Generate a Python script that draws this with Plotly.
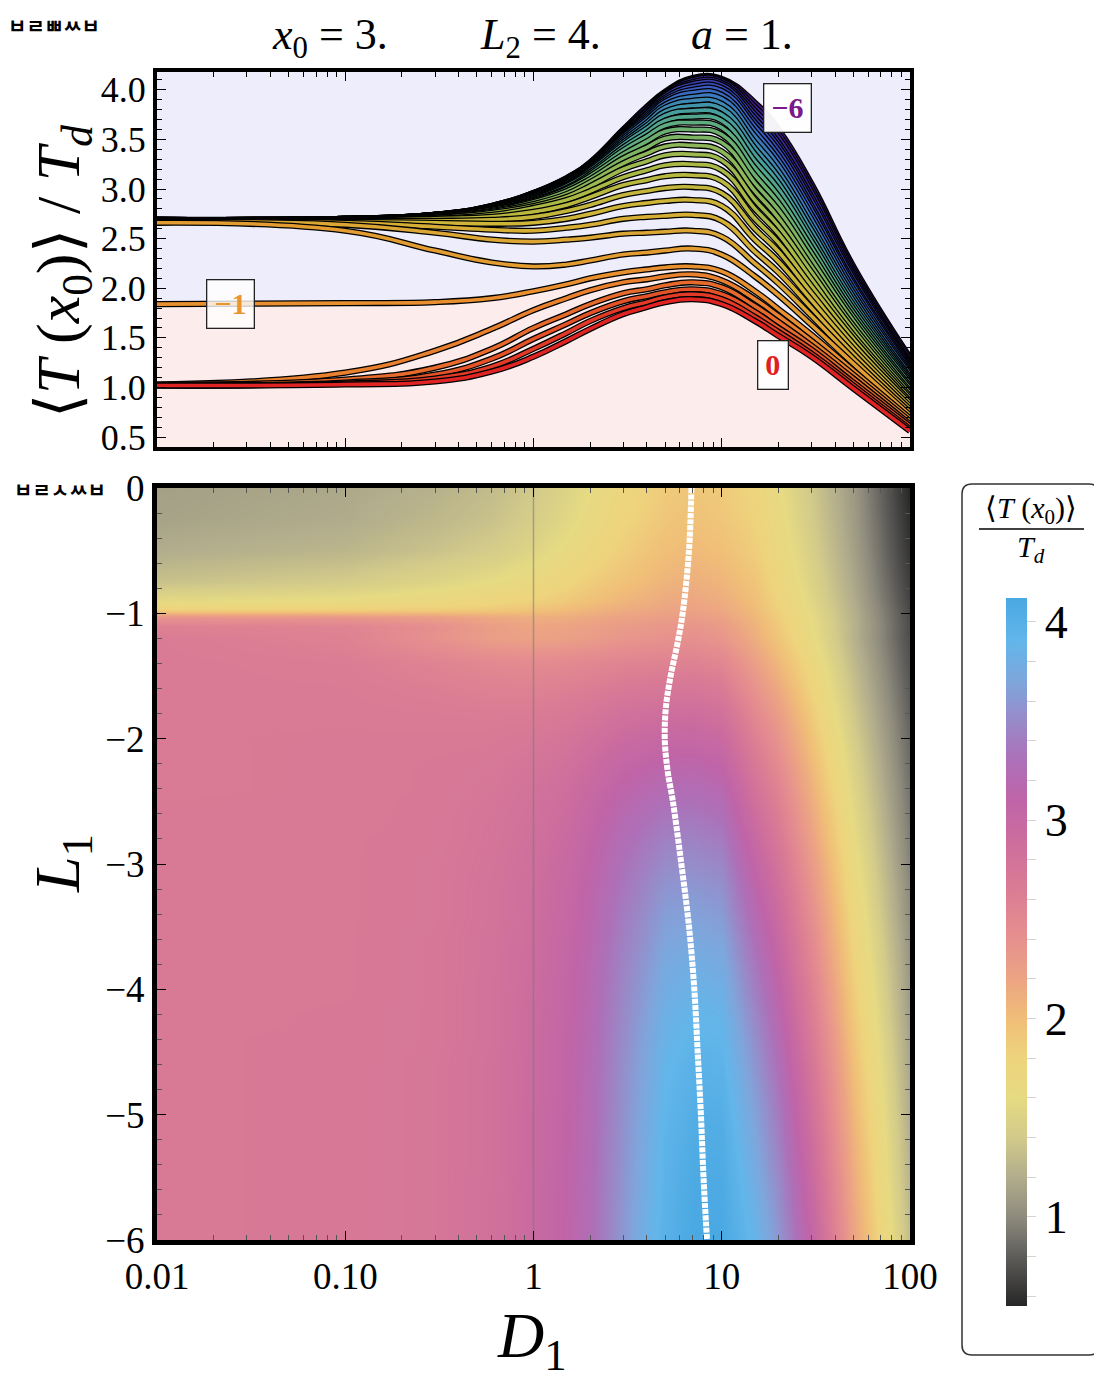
import numpy as np
import plotly.graph_objects as go

# the page puts the figure 8px in from the top-left corner of the window
OFF = 8
W, H = 1102 - OFF, 1381 - OFF
SERIF = "Liberation Serif"

# ---------------- data ----------------
D1 = [0.01, 0.1, 0.3, 0.6, 1, 1.5, 2, 3, 4, 5, 7, 10, 15, 20, 30, 50, 100]

CURVE_L1 = [0, -0.2, -0.4, -0.6, -0.8, -1.0, -1.2, -1.4, -1.6, -1.8, -2.0,
            -2.2, -2.4, -2.6, -2.8, -3.0, -3.2, -3.4, -3.6, -3.8, -4.0,
            -4.2, -4.4, -4.6, -4.8, -5.0, -5.2, -5.4, -5.6, -5.8, -6.0]

# <T(x0)>/Td, one row per L1, one column per D1
CURVES = [
    [1.02, 1.03, 1.06, 1.16, 1.31, 1.47, 1.59, 1.74, 1.81, 1.86, 1.89, 1.84, 1.67, 1.52, 1.31, 0.99, 0.56],
    [1.02, 1.04, 1.09, 1.21, 1.39, 1.55, 1.67, 1.80, 1.86, 1.91, 1.94, 1.89, 1.71, 1.56, 1.34, 1.02, 0.58],
    [1.02, 1.05, 1.13, 1.29, 1.49, 1.64, 1.75, 1.87, 1.92, 1.96, 1.99, 1.94, 1.76, 1.60, 1.38, 1.05, 0.61],
    [1.03, 1.08, 1.20, 1.39, 1.60, 1.74, 1.84, 1.95, 1.99, 2.03, 2.06, 2.01, 1.82, 1.66, 1.42, 1.09, 0.63],
    [1.03, 1.15, 1.37, 1.59, 1.78, 1.90, 1.98, 2.06, 2.09, 2.12, 2.14, 2.08, 1.89, 1.72, 1.47, 1.13, 0.66],
    [1.84, 1.85, 1.86, 1.90, 1.97, 2.04, 2.10, 2.16, 2.19, 2.21, 2.22, 2.17, 1.97, 1.79, 1.53, 1.17, 0.69],
    [2.66, 2.58, 2.38, 2.26, 2.22, 2.24, 2.28, 2.34, 2.36, 2.38, 2.40, 2.34, 2.12, 1.93, 1.63, 1.24, 0.72],
    [2.67, 2.64, 2.56, 2.49, 2.47, 2.49, 2.51, 2.55, 2.56, 2.57, 2.58, 2.52, 2.25, 2.05, 1.72, 1.29, 0.75],
    [2.67, 2.66, 2.62, 2.59, 2.58, 2.61, 2.64, 2.70, 2.72, 2.73, 2.74, 2.68, 2.37, 2.16, 1.80, 1.34, 0.78],
    [2.67, 2.67, 2.66, 2.65, 2.66, 2.70, 2.75, 2.83, 2.86, 2.88, 2.89, 2.83, 2.49, 2.27, 1.88, 1.39, 0.81],
    [2.67, 2.68, 2.68, 2.69, 2.72, 2.78, 2.84, 2.94, 2.98, 3.01, 3.02, 2.96, 2.60, 2.37, 1.95, 1.44, 0.84],
    [2.67, 2.68, 2.70, 2.72, 2.77, 2.84, 2.92, 3.04, 3.09, 3.13, 3.14, 3.08, 2.70, 2.46, 2.02, 1.49, 0.86],
    [2.67, 2.68, 2.70, 2.74, 2.81, 2.89, 2.98, 3.12, 3.19, 3.24, 3.25, 3.19, 2.80, 2.55, 2.09, 1.53, 0.89],
    [2.68, 2.68, 2.71, 2.76, 2.83, 2.92, 3.03, 3.20, 3.28, 3.34, 3.35, 3.29, 2.89, 2.63, 2.16, 1.58, 0.91],
    [2.68, 2.69, 2.71, 2.77, 2.85, 2.95, 3.07, 3.26, 3.36, 3.43, 3.44, 3.38, 2.98, 2.71, 2.22, 1.62, 0.94],
    [2.68, 2.69, 2.72, 2.78, 2.87, 2.98, 3.10, 3.31, 3.42, 3.51, 3.52, 3.47, 3.06, 2.79, 2.29, 1.67, 0.96],
    [2.68, 2.69, 2.72, 2.79, 2.88, 3.00, 3.13, 3.35, 3.48, 3.58, 3.60, 3.55, 3.14, 2.86, 2.35, 1.71, 0.99],
    [2.68, 2.69, 2.72, 2.79, 2.89, 3.01, 3.15, 3.39, 3.53, 3.64, 3.67, 3.62, 3.21, 2.93, 2.41, 1.75, 1.01],
    [2.68, 2.69, 2.73, 2.80, 2.90, 3.03, 3.17, 3.42, 3.57, 3.69, 3.73, 3.69, 3.28, 3.00, 2.47, 1.79, 1.04],
    [2.68, 2.69, 2.73, 2.80, 2.91, 3.04, 3.19, 3.45, 3.61, 3.74, 3.79, 3.75, 3.35, 3.06, 2.52, 1.83, 1.06],
    [2.68, 2.69, 2.73, 2.81, 2.92, 3.05, 3.20, 3.47, 3.64, 3.78, 3.84, 3.81, 3.41, 3.12, 2.58, 1.87, 1.08],
    [2.68, 2.70, 2.73, 2.81, 2.93, 3.06, 3.21, 3.49, 3.67, 3.82, 3.89, 3.86, 3.47, 3.18, 2.63, 1.91, 1.10],
    [2.69, 2.70, 2.73, 2.81, 2.93, 3.07, 3.22, 3.51, 3.70, 3.85, 3.93, 3.91, 3.53, 3.24, 2.69, 1.95, 1.13],
    [2.69, 2.70, 2.74, 2.82, 2.94, 3.08, 3.23, 3.53, 3.72, 3.88, 3.97, 3.95, 3.58, 3.29, 2.74, 1.99, 1.15],
    [2.69, 2.70, 2.74, 2.82, 2.94, 3.08, 3.24, 3.54, 3.74, 3.90, 4.00, 3.99, 3.63, 3.34, 2.79, 2.03, 1.17],
    [2.69, 2.70, 2.74, 2.82, 2.95, 3.09, 3.24, 3.55, 3.76, 3.92, 4.03, 4.02, 3.67, 3.39, 2.83, 2.06, 1.19],
    [2.69, 2.70, 2.74, 2.82, 2.95, 3.09, 3.25, 3.56, 3.77, 3.94, 4.06, 4.05, 3.71, 3.43, 2.88, 2.10, 1.21],
    [2.69, 2.70, 2.74, 2.82, 2.95, 3.10, 3.25, 3.57, 3.79, 3.95, 4.08, 4.07, 3.75, 3.47, 2.92, 2.13, 1.23],
    [2.69, 2.70, 2.74, 2.83, 2.96, 3.10, 3.26, 3.58, 3.80, 3.96, 4.10, 4.09, 3.79, 3.52, 2.97, 2.16, 1.25],
    [2.69, 2.70, 2.74, 2.83, 2.96, 3.11, 3.26, 3.59, 3.82, 3.97, 4.11, 4.10, 3.83, 3.56, 3.01, 2.19, 1.28],
    [2.69, 2.70, 2.74, 2.83, 2.96, 3.11, 3.27, 3.60, 3.83, 3.98, 4.12, 4.11, 3.87, 3.60, 3.05, 2.22, 1.30],
]

# density map rows above L1 = -1.2
HEAT_TOP_L1 = [0, -0.25, -0.5, -0.75, -0.9, -0.97, -1.03, -1.1]
HEAT_TOP = [
    [1.12, 1.17, 1.23, 1.30, 1.40, 1.51, 1.60, 1.75, 1.82, 1.88, 1.93, 1.88, 1.78, 1.62, 1.38, 1.08, 0.55],
    [1.14, 1.19, 1.27, 1.34, 1.44, 1.55, 1.65, 1.79, 1.86, 1.92, 1.96, 1.92, 1.81, 1.66, 1.41, 1.10, 0.58],
    [1.20, 1.26, 1.35, 1.43, 1.53, 1.64, 1.73, 1.86, 1.93, 1.98, 2.02, 1.98, 1.86, 1.70, 1.45, 1.13, 0.61],
    [1.34, 1.42, 1.52, 1.60, 1.69, 1.78, 1.86, 1.96, 2.02, 2.07, 2.11, 2.06, 1.93, 1.76, 1.50, 1.17, 0.65],
    [1.58, 1.63, 1.70, 1.76, 1.83, 1.90, 1.97, 2.06, 2.11, 2.15, 2.18, 2.13, 1.98, 1.80, 1.54, 1.20, 0.68],
    [1.85, 1.86, 1.88, 1.91, 1.96, 2.02, 2.07, 2.14, 2.17, 2.20, 2.22, 2.17, 2.01, 1.83, 1.57, 1.22, 0.70],
    [2.35, 2.32, 2.25, 2.16, 2.12, 2.13, 2.16, 2.21, 2.24, 2.26, 2.28, 2.22, 2.04, 1.86, 1.59, 1.23, 0.71],
    [2.58, 2.55, 2.40, 2.26, 2.19, 2.21, 2.24, 2.29, 2.31, 2.33, 2.35, 2.29, 2.08, 1.90, 1.61, 1.24, 0.72],
]

# location of the maximum (white dots)
PEAK_L1 = [0, -0.5, -1.0, -1.25, -1.5, -1.75, -2.0, -2.25, -2.5, -3.0, -3.5, -4.0, -4.5, -5.0, -5.5, -6.0]
PEAK_D1 = [6.9, 6.7, 6.2, 5.8, 5.35, 5.05, 4.98, 5.15, 5.5, 6.1, 6.7, 7.15, 7.45, 7.75, 8.0, 8.35]

X_TICKS = [0.01, 0.1, 1, 10, 100]
X_TICKTEXT = ["0.01", "0.10", "1", "10", "100"]
TOP_Y_TICKS = [0.5, 1.0, 1.5, 2.0, 2.5, 3.0, 3.5, 4.0]
BOT_Y_TICKS = [-6, -5, -4, -3, -2, -1, 0]

# ---------------- styles ----------------
CB_VALUES = [0.55, 0.8, 1.0, 1.2, 1.4, 1.6, 1.8, 2.0, 2.2, 2.4, 2.65, 2.9, 3.1, 3.3, 3.5, 3.7, 3.9, 4.12]
CB_COLORS = ["#262626", "#5e5d5a", "#8e8b7d", "#b2ad8c", "#d2ca8a", "#e6da82", "#eed47c",
             "#f0bd78", "#eca483", "#e6908e", "#da7c94", "#cc6d9e", "#c064a8", "#ad70b8",
             "#988ac8", "#7ea6dc", "#62b6ea", "#4aa8e2"]
ZMIN, ZMAX = 0.55, 4.12

CURVE_COLORS = ["#e02424", "#e23a26", "#e45228", "#e66a2c", "#e8802e", "#e8902f",
                "#e29c32", "#dca634", "#d6ae36", "#ceb438", "#c4b63c", "#b8b840",
                "#aab846", "#9cb84e", "#8cb658", "#7cb464", "#6cb070", "#5eac80",
                "#52a68e", "#489e9c", "#4294a8", "#3e88b4", "#3c7abe", "#3a6cc2",
                "#3a5cc0", "#3a4cb8", "#3a3eae", "#3c32a2", "#3e2896", "#40208a", "#42187e"]
SPL = dict(shape="spline", smoothing=1.3)


def px(x):
    return (x - OFF) / W


def py(y):
    return 1 - (y - OFF) / H


logD = np.log10(D1)
minor_x = np.log10([m * 10.0 ** k for k in range(-2, 2) for m in range(2, 10)])

fig = go.Figure()

# ---- upper panel ----
i_m1 = CURVE_L1.index(-1.0)
fig.add_trace(go.Scatter(x=logD, y=CURVES[i_m1], mode="lines", line=dict(width=0, **SPL),
                         fill="tozeroy", fillcolor="#fcecec", hoverinfo="skip",
                         xaxis="x", yaxis="y"))
for i in range(len(CURVE_L1) - 1, -1, -1):
    fig.add_trace(go.Scatter(x=logD, y=CURVES[i], mode="lines",
                             line=dict(color="black", width=6.2, **SPL),
                             xaxis="x", yaxis="y", hoverinfo="skip"))
    fig.add_trace(go.Scatter(x=logD, y=CURVES[i], mode="lines",
                             line=dict(color=CURVE_COLORS[i], width=3.6, **SPL),
                             xaxis="x", yaxis="y", name=f"L1={CURVE_L1[i]}"))

# ---- lower panel ----
heat_l1 = HEAT_TOP_L1 + CURVE_L1[6:]
heat_z = HEAT_TOP + CURVES[6:]
colorscale = [[(v - ZMIN) / (ZMAX - ZMIN), c] for v, c in zip(CB_VALUES, CB_COLORS)]
cb_ticks = [round(0.6 + 0.2 * k, 1) for k in range(18)]
cb_text = [str(int(round(t))) if abs(t - round(t)) < 1e-6 else "" for t in cb_ticks]

fig.add_trace(go.Heatmap(
    x=logD, y=heat_l1[::-1], z=heat_z[::-1], zsmooth="best",
    colorscale=colorscale, zmin=ZMIN, zmax=ZMAX, xaxis="x2", yaxis="y2",
    colorbar=dict(x=px(1006), xanchor="left", y=py(952), yanchor="middle",
                  len=(1306 - 598) / H, lenmode="fraction", thickness=21,
                  xpad=0, ypad=0, outlinewidth=0, tickvals=cb_ticks, ticktext=cb_text,
                  ticks="outside", ticklen=9, tickcolor="#d4d4d4", tickwidth=1,
                  tickfont=dict(family=SERIF, size=46, color="black"))))
fig.add_trace(go.Scatter(x=[0, 0], y=[-6, 0], mode="lines",
                         line=dict(color="rgba(120,120,120,0.55)", width=1.5),
                         xaxis="x2", yaxis="y2", hoverinfo="skip"))
fig.add_trace(go.Scatter(x=np.log10(PEAK_D1), y=PEAK_L1, mode="lines",
                         line=dict(color="white", width=6, dash="5px,1.2px", shape="spline"),
                         xaxis="x2", yaxis="y2"))

frame = dict(showline=True, linecolor="black", mirror="allticks", ticks="inside",
             tickcolor="black", tickwidth=1.3, ticklen=9, showgrid=False,
             zeroline=False, automargin=False,
             tickfont=dict(family=SERIF, size=36, color="black"))

fig.update_layout(
    width=W, height=H, margin=dict(l=0, r=0, t=0, b=0),
    paper_bgcolor="white", plot_bgcolor="#ededfb", showlegend=False,
    xaxis=dict(frame, domain=[px(157), px(910)], range=[-2, 2], linewidth=4,
               tickvals=np.log10(X_TICKS), showticklabels=False, anchor="y",
               minor=dict(tickvals=minor_x, ticklen=5, ticks="inside", tickcolor="black")),
    yaxis=dict(frame, domain=[py(447), py(72)], range=[0.40, 4.18], linewidth=4,
               tickvals=TOP_Y_TICKS, ticktext=[f"{v:.1f}" for v in TOP_Y_TICKS], anchor="x",
               minor=dict(tickvals=[round(0.4 + 0.1 * k, 1) for k in range(39)],
                          ticklen=5, ticks="inside", tickcolor="black")),
    xaxis2=dict(frame, domain=[px(157), px(910)], range=[-2, 2], linewidth=5,
                tickvals=np.log10(X_TICKS), ticktext=X_TICKTEXT, anchor="y2",
                tickfont=dict(family=SERIF, size=37, color="black"),
                minor=dict(tickvals=minor_x, ticklen=5, ticks="inside", tickcolor="#555")),
    yaxis2=dict(frame, domain=[py(1240), py(488)], range=[-6, 0], linewidth=5,
                tickvals=BOT_Y_TICKS, ticktext=[str(v).replace("-", "\u2212") for v in BOT_Y_TICKS],
                anchor="x2", tickfont=dict(family=SERIF, size=37, color="black"),
                minor=dict(tickvals=[round(-6 + 0.2 * k, 1) for k in range(31)],
                           ticklen=5, ticks="inside", tickcolor="#555")),
)


def note(text, x, y, size, **kw):
    fig.add_annotation(text=text, x=px(x), y=py(y), xref="paper", yref="paper",
                       showarrow=False, xanchor="center",
                       yanchor=kw.pop("yanchor", "middle"),
                       font=dict(family=kw.pop("family", SERIF), size=size,
                                 color=kw.pop("color", "black")), **kw)


# title line (hung from the top edge)
note("<i>x</i><sub>0</sub> = 3.", 330, OFF, 44, yanchor="top")
note("<i>L</i><sub>2</sub> = 4.", 540, OFF, 44, yanchor="top")
note("<i>a</i> = 1.", 742, OFF, 44, yanchor="top")

# axis titles
note("\u27e8<i>T</i> (<i>x</i><sub>0</sub>)\u27e9 / <i>T<sub>d</sub></i>", 62, 272, 62, textangle=-90)
note("<i>L</i><sub>1</sub>", 62, 864, 64, textangle=-90)
note("<i>D</i><sub>1</sub>", 532, 1340, 64)

# panel tags
note("<b>\uffb2\uffa9\uffb3\uffb6\uffb2</b>", 54, OFF + 1, 20, family="Noto Sans CJK KR", yanchor="top")
note("<b>\uffb2\uffa9\uffb5\uffb6\uffb2</b>", 60, 490, 20, family="Noto Sans CJK KR")

# curve labels
for txt, x, y, col, bg in [("\u22126", 787, 108, "#7a1a8a", "rgba(255,255,255,0.95)"),
                           ("\u22121", 230, 304, "#e8952f", "rgba(255,255,255,0.8)"),
                           ("0", 773, 365, "#e0201e", "rgba(255,255,255,0.95)")]:
    note(f"<b>{txt}</b>", x, y, 30, color=col, bgcolor=bg, bordercolor="#222",
         borderwidth=1.3, borderpad=7)

# colorbar legend box and title
r = 10
x0, x1, y0, y1 = 962, 1099, 484, 1355
path = (f"M {px(x0 + r)},{py(y0)} L {px(x1 - r)},{py(y0)} Q {px(x1)},{py(y0)} {px(x1)},{py(y0 + r)} "
        f"L {px(x1)},{py(y1 - r)} Q {px(x1)},{py(y1)} {px(x1 - r)},{py(y1)} "
        f"L {px(x0 + r)},{py(y1)} Q {px(x0)},{py(y1)} {px(x0)},{py(y1 - r)} "
        f"L {px(x0)},{py(y0 + r)} Q {px(x0)},{py(y0)} {px(x0 + r)},{py(y0)} Z")
fig.add_shape(type="path", path=path, xref="paper", yref="paper",
              line=dict(color="#333", width=1.5), fillcolor="rgba(0,0,0,0)")
note("\u27e8<i>T</i> (<i>x</i><sub>0</sub>)\u27e9", 1031, 510, 30)
fig.add_shape(type="line", xref="paper", yref="paper", x0=px(979), x1=px(1084),
              y0=py(529), y1=py(529), line=dict(color="black", width=1.5))
note("<i>T<sub>d</sub></i>", 1031, 549, 30)

fig.write_html("out.html")
